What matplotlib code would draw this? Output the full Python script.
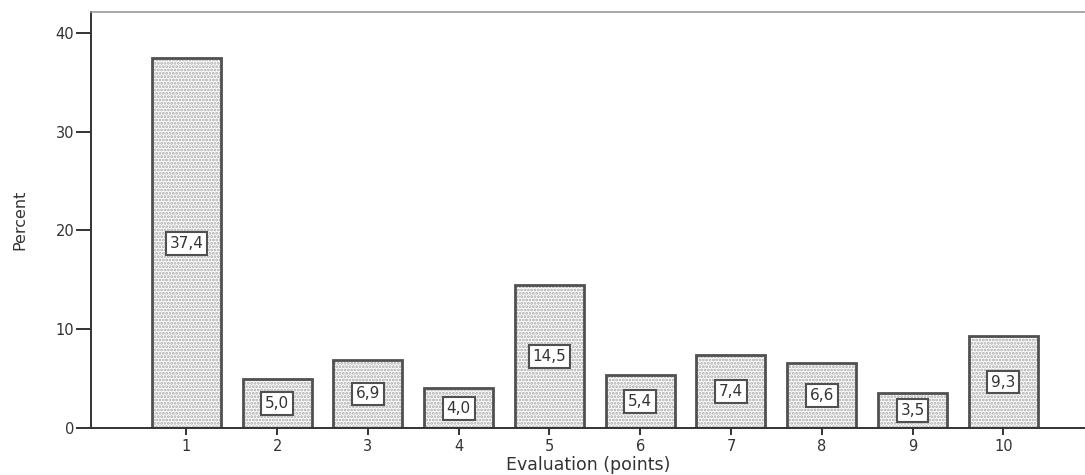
import matplotlib.pyplot as plt

### Date ###
points = [1, 2, 3, 4, 5, 6, 7, 8, 9, 10]
percent = [37.4, 5.0, 6.9, 4.0, 14.5, 5.4, 7.4, 6.6, 3.5, 9.3]
labels = ["37,4", "5,0", "6,9", "4,0", "14,5", "5,4", "7,4", "6,6", "3,5", "9,3"]

plt.rcParams["hatch.linewidth"] = 1.4
plt.rcParams["font.family"] = "DejaVu Sans"

fig = plt.figure(figsize=(10.85, 4.75), dpi=100)
ax = fig.add_axes([91 / 1085, 1 - 428 / 475, 1 - 91 / 1085, (428 - 12) / 475])

# bare cu hasura punctata #
ax.bar(points, percent, width=0.76, color="white", edgecolor="#a8a8a8",
       hatch=".....", linewidth=0)
ax.bar(points, percent, width=0.76, fill=False, edgecolor="#505050", linewidth=2.0)

# etichete valori #
for x, v, t in zip(points, percent, labels):
    ax.text(x, v / 2, t, ha="center", va="center", fontsize=11, color="#333333",
            bbox=dict(boxstyle="square,pad=0.25", facecolor="white",
                      edgecolor="#505050", linewidth=1.5))

ax.set_xlim(-0.05, 10.9)
ax.set_ylim(0, 42.1)
ax.set_xticks(points)
ax.set_yticks([0, 10, 20, 30, 40])
ax.tick_params(axis="y", direction="out", length=11, width=1.4, pad=1)
ax.tick_params(axis="x", direction="out", length=5, width=1.4, pad=3)
ax.tick_params(axis="both", labelsize=10.5, colors="#333333")

ax.spines["right"].set_visible(False)
ax.spines["top"].set_color("#999999")
ax.spines["top"].set_linewidth(1.2)
for s in ["left", "bottom"]:
    ax.spines[s].set_color("#333333")
    ax.spines[s].set_linewidth(1.4)

ax.set_ylabel("Percent", fontsize=11.5, family="Liberation Sans Narrow",
              color="#333333", labelpad=20)
ax.set_xlabel("Evaluation (points)", fontsize=12.5, color="#333333", labelpad=1)

fig.savefig("out.png", dpi=100)
